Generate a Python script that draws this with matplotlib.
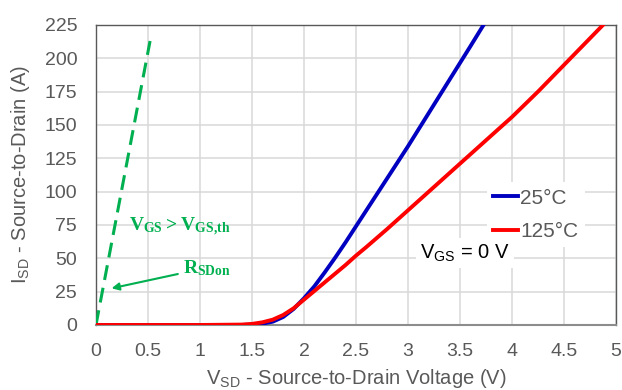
import matplotlib
matplotlib.use('Agg')
import matplotlib.pyplot as plt

# Body-diode curves, V_GS = 0 V
v_25c = [0, 0.5, 1.0, 1.4, 1.5, 1.6, 1.7, 1.8, 1.9, 2.0, 2.1, 2.2, 2.3, 2.4, 2.5,
         2.6, 2.7, 2.8, 3.0, 3.2, 3.4, 3.6, 3.75]
i_25c = [0, 0, 0, 0, 0.3, 1, 2.5, 6, 12, 20, 29, 39.5, 50.5, 62, 74,
         86, 98, 110, 134, 159, 184, 209, 228]

v_125c = [0, 0.5, 1.0, 1.4, 1.5, 1.6, 1.7, 1.8, 1.9, 2.0, 2.1, 2.2, 2.3, 2.4, 2.5,
          2.6, 2.8, 3.0, 3.25, 3.5, 3.75, 4.0, 4.25, 4.5, 4.75, 4.9]
i_125c = [0, 0, 0, 0.3, 0.8, 2, 4, 7.5, 12.5, 19, 25.5, 32, 38.5, 45, 52,
          58.5, 72, 86, 103.5, 121, 138.5, 156, 175, 195, 215, 227]

# Channel conduction (V_GS above threshold)
v_rsdon = [0, 0.52]
i_rsdon = [0, 213]

x_ticks = [0, 0.5, 1, 1.5, 2, 2.5, 3, 3.5, 4, 4.5, 5]
x_ticklabels = ['0', '0.5', '1', '1.5', '2', '2.5', '3', '3.5', '4', '4.5', '5']
y_ticks = [0, 25, 50, 75, 100, 125, 150, 175, 200, 225]

plt.rcParams['font.family'] = 'Liberation Sans'
plt.rcParams['mathtext.fontset'] = 'custom'
plt.rcParams['mathtext.rm'] = 'Liberation Sans'

gray = '#595959'
green = '#00B050'

fig = plt.figure(figsize=(6.22, 3.90), dpi=100)
ax = fig.add_axes([0.1543, 0.1667, 0.836, 0.7692])

ax.plot(v_rsdon, i_rsdon, color=green, lw=2.2, dashes=(4.9, 2.6), zorder=3)
ax.plot(v_25c, i_25c, color='#0000C0', lw=2.8, label='25°C', zorder=4)
ax.plot(v_125c, i_125c, color='#FF0000', lw=2.8, label='125°C', zorder=5)

ax.set_xlim(0, 5)
ax.set_ylim(0, 225)
ax.set_xticks(x_ticks)
ax.set_xticklabels(x_ticklabels)
ax.set_yticks(y_ticks)
ax.grid(True, color='#D9D9D9', lw=1.1)
ax.set_axisbelow(True)
ax.tick_params(length=0, labelsize=14, labelcolor=gray)
ax.tick_params(axis='x', pad=13)
ax.tick_params(axis='y', pad=13.5)
for side in ['top', 'right', 'left']:
    ax.spines[side].set_color(gray)
    ax.spines[side].set_linewidth(1.0)
ax.spines['bottom'].set_color('#8C8C8C')
ax.spines['bottom'].set_linewidth(1.5)

ax.set_xlabel(r'$\mathregular{V_{SD}}$ - Source-to-Drain Voltage (V)', fontsize=14.5, color=gray, labelpad=5)
ax.set_ylabel(r'$\mathregular{I_{SD}}$ - Source-to-Drain (A)', fontsize=14.5, color=gray, labelpad=9)

leg = ax.legend(loc='center left', bbox_to_anchor=(0.752, 0.367), borderaxespad=0,
                fontsize=15, handlelength=1.2, handletextpad=0.1, labelspacing=0.7,
                frameon=True, facecolor='white', edgecolor='none', framealpha=1,
                borderpad=0.3)
for t in leg.get_texts():
    t.set_color(gray)

ax.text(3.12, 54, r'$\mathregular{V_{GS}}$ = 0 V', fontsize=14.5, color='black', va='center',
        bbox=dict(facecolor='white', edgecolor='none', pad=3), zorder=6)

ax.text(0.32, 73.5, r'$\mathregular{V_{GS} > V_{GS{,}th}}$', fontsize=14, color=green,
        family='Liberation Serif', weight='bold', va='center', zorder=6)
ax.annotate(r'$\mathregular{R_{SDon}}$', xy=(0.15, 27.5), xytext=(0.84, 43),
            fontsize=14, color=green, family='Liberation Serif', weight='bold',
            va='center', zorder=6,
            arrowprops=dict(arrowstyle='-|>', color=green, lw=1.5, mutation_scale=11,
                            shrinkA=2, shrinkB=0))

fig.savefig('out.png', dpi=100)
